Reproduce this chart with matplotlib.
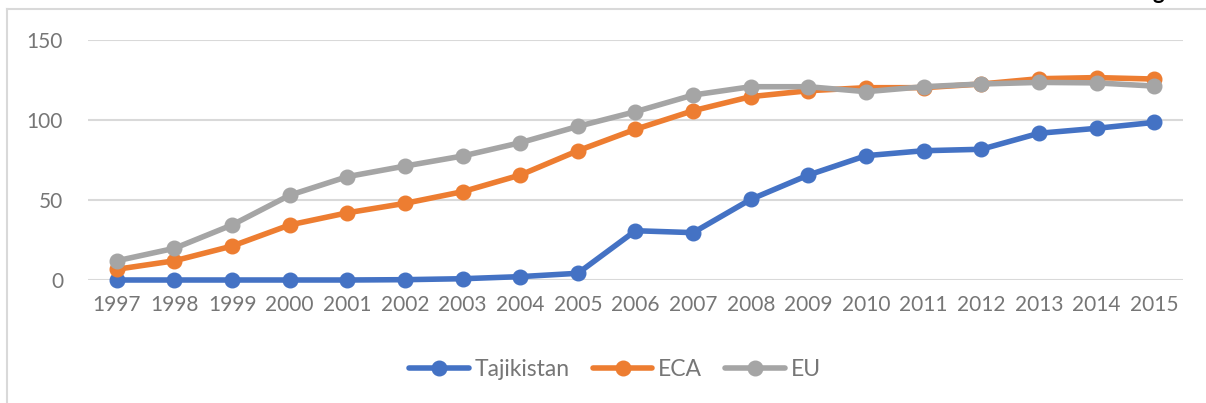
import matplotlib.pyplot as plt
from matplotlib.lines import Line2D

# data
years = [str(y) for y in range(1997, 2016)]
tajikistan = [0, 0, 0, 0, 0, 0.2, 0.8, 2.1, 4.2, 30.8, 29.6, 50.4, 65.6, 77.7,
              80.8, 81.7, 91.7, 94.8, 98.5]
eca = [6.7, 12, 21.2, 34.4, 42, 47.9, 55.2, 65.6, 80.8, 94.2, 105.8, 114.6,
       118.3, 120.2, 120.2, 122.5, 125.8, 126.5, 125.6]
eu = [12, 19.8, 34.4, 53, 64.6, 71.2, 77.5, 85.8, 96, 105.2, 115.6, 120.8,
      120.8, 117.7, 120.8, 122.5, 123.5, 123.2, 121.2]

series_names = ["Tajikistan", "ECA", "EU"]
colors = ["#4472c4", "#ed7d31", "#a5a5a5"]
text_gray = "#767676"

plt.rcParams['font.family'] = ['Lato', 'DejaVu Sans']

fig = plt.figure(figsize=(12.06, 4.03), dpi=100)
ax = fig.add_axes([88 / 1206, 1 - 280 / 403, (1183 - 88) / 1206, 240 / 403])

x = list(range(len(years)))
for vals, name, col in zip([tajikistan, eca, eu], series_names, colors):
    ax.plot(x, vals, color=col, lw=4, marker='o', ms=10.5, label=name,
            clip_on=False, solid_capstyle='round', zorder=3)

ax.set_xlim(-0.5, len(years) - 0.5)
ax.set_ylim(0, 150)
ax.set_yticks([0, 50, 100, 150])
ax.set_xticks(x)
ax.set_xticklabels(years)
ax.grid(axis='y', color='#d9d9d9', lw=1.5)
ax.set_axisbelow(True)
for s in ax.spines.values():
    s.set_visible(False)
ax.tick_params(length=0, labelsize=15, colors=text_gray)
ax.tick_params(axis='y', pad=18)
ax.tick_params(axis='x', pad=11)

handles = [Line2D([0], [0], color=c, lw=4, marker='o', ms=10.5,
                  solid_capstyle='round') for c in colors]
fig.legend(handles, series_names, loc='center', bbox_to_anchor=(615 / 1206, 1 - 370 / 403),
           ncol=3, frameon=False, fontsize=16.5, labelcolor=text_gray,
           handlelength=2.6, columnspacing=1.0, handletextpad=0.25)

# outer chart border (only left and top visible in the crop)
fig.add_artist(Line2D([7 / 1206, 7 / 1206], [0, 1 - 9 / 403], color='#d9d9d9', lw=1.5,
                      transform=fig.transFigure))
fig.add_artist(Line2D([7 / 1206, 1], [1 - 9 / 403, 1 - 9 / 403], color='#d9d9d9', lw=1.5,
                      transform=fig.transFigure))
# clipped title remnant (cut off in the reference too)
fig.text(1158 / 1206, 1 + 1 / 403, "g", fontsize=16, fontweight='bold', color='black',
         va='baseline', ha='center')

fig.savefig("out.png", dpi=100)
